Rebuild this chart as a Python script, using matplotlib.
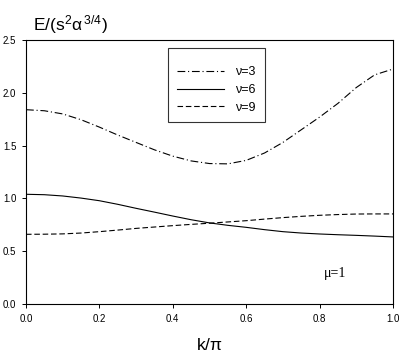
import numpy as np
import matplotlib
matplotlib.use("Agg")
import matplotlib.pyplot as plt

#Energy bands, E/(s^2 alpha^3/4) against k/pi
K = [0.0, 0.05, 0.1, 0.15, 0.2, 0.25, 0.3, 0.35, 0.4, 0.45, 0.5, 0.55,
     0.6, 0.65, 0.7, 0.75, 0.8, 0.85, 0.9, 0.95, 1.0]
NU3 = [1.84, 1.83, 1.80, 1.745, 1.675, 1.60, 1.53, 1.46, 1.40, 1.355, 1.33, 1.327,
       1.36, 1.43, 1.53, 1.65, 1.77, 1.90, 2.05, 2.17, 2.225]
NU6 = [1.039, 1.035, 1.023, 1.003, 0.978, 0.944, 0.906, 0.870, 0.833, 0.798, 0.768, 0.745,
       0.726, 0.704, 0.685, 0.672, 0.663, 0.656, 0.650, 0.643, 0.635]
NU9 = [0.660, 0.661, 0.664, 0.672, 0.685, 0.700, 0.716, 0.729, 0.742, 0.754, 0.765, 0.777,
       0.789, 0.804, 0.818, 0.830, 0.840, 0.847, 0.852, 0.853, 0.853]
LABELS = ["\u03bd=3", "\u03bd=6", "\u03bd=9"]
XTICKS = [0.0, 0.2, 0.4, 0.6, 0.8, 1.0]
YTICKS = [0.0, 0.5, 1.0, 1.5, 2.0, 2.5]

plt.rcParams["font.family"] = ["Liberation Sans", "DejaVu Sans"]
plt.rcParams["mathtext.fontset"] = "custom"
plt.rcParams["mathtext.rm"] = "Liberation Sans"
plt.rcParams["mathtext.it"] = "Liberation Sans"

fig = plt.figure(figsize=(4.15, 3.6), dpi=100)
ax = fig.add_axes([26 / 415, 1 - 304 / 360, 367 / 415, 264 / 360])

lw = 0.8
ax.plot(K, NU3, color="k", lw=lw, dashes=(7, 2.5, 1, 2.5), label=LABELS[0])
ax.plot(K, NU6, color="k", lw=lw, label=LABELS[1])
ax.plot(K, NU9, color="k", lw=lw, dashes=(5, 2.5), label=LABELS[2])

ax.set_xlim(0, 1)
ax.set_ylim(0, 2.5)
ax.set_xticks(XTICKS)
ax.set_yticks(YTICKS)
ax.set_xticklabels([f"{v:.1f}" for v in XTICKS])
ax.set_yticklabels([f"{v:.1f}" for v in YTICKS])
ax.tick_params(direction="out", length=3, width=0.7, labelsize=7, pad=4)
for s in ax.spines.values():
    s.set_linewidth(0.8)

fig.text(33 / 415, 1 - 25 / 360, r"E/(s$^2$$\alpha^{\,3/4}$)", fontsize=12.5,
         va="center", ha="left")
fig.text(209 / 415, 1 - 345 / 360, r"k/$\pi$", fontsize=12.5, va="center", ha="center")
ax.text((335 - 26) / 367, (304 - 273) / 264, "\u03bc=1",
        transform=ax.transAxes, fontsize=10, family="Liberation Serif",
        ha="center", va="center")

#Blank small title only pads the top of the box like the reference
leg = ax.legend(loc="upper left", bbox_to_anchor=((168 - 26) / 367, (304 - 48) / 264),
                frameon=True, fancybox=False, edgecolor="k", fontsize=9,
                title=" ", title_fontsize=2.5,
                handlelength=3.8, handletextpad=0.9, labelspacing=0.45,
                borderpad=0.7, borderaxespad=0)
leg.get_frame().set_linewidth(0.8)

fig.savefig("out.png", dpi=100)
